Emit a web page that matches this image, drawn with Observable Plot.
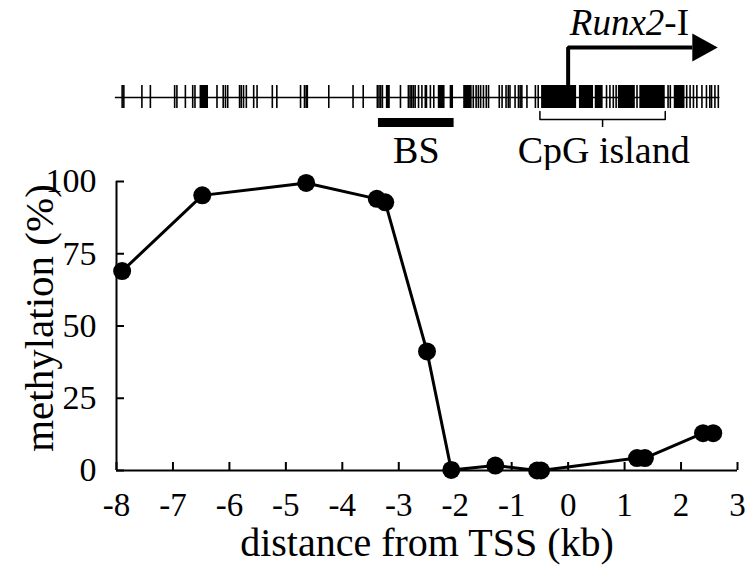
<!DOCTYPE html>
<html>
<head>
<meta charset="utf-8">
<script src="https://cdn.jsdelivr.net/npm/d3@7"></script>
<script src="https://cdn.jsdelivr.net/npm/@observablehq/plot@0.6"></script>
<style>
  html, body { margin: 0; padding: 0; background: #fff; }
  #chart svg { display: block; font-family: "Liberation Serif", "Times New Roman", serif; color: #000; }
</style>
</head>
<body>
<div id="chart"></div>
<script>
// ---- data (kb relative to TSS, % methylation) ----
const positionKb = [-7.9, -6.48, -4.64, -3.39, -3.24, -2.50, -2.07, -1.29, -0.55, -0.48, 1.22, 1.36, 2.39, 2.57];
const methylationPct = [69, 95.2, 99.5, 94, 92.8, 41.2, 0.2, 1.7, 0, 0, 4.3, 4.3, 12.9, 12.9];
const xTickValues = [-8, -7, -6, -5, -4, -3, -2, -1, 0, 1, 2, 3];
const yTickValues = [0, 25, 50, 75, 100];
const xTitle = "distance from TSS (kb)";
const yTitle = "methylation (%)";

// ---- gene diagram (kb) ----
const cpgSites = [-7.90, -7.87, -7.55, -7.40, -6.97, -6.93, -6.78, -6.65, -6.61, -6.22, -6.11, -6.07, -6.03,
  -5.82, -5.79, -5.75, -5.70, -5.57, -5.51, -5.24, -5.16, -4.74, -4.67, -4.64, -4.62, -4.24, -3.81, -3.63,
  -3.38, -3.35, -3.32, -3.29, -2.97, -2.83, -2.80, -2.77, -2.74, -2.71, -2.65, -2.59, -2.53, -2.51, -2.44, -2.38,
  -1.68, -1.63, -1.59, -1.55, -1.50, -1.45, -1.41, -1.22, -1.17, -1.10, -1.06, -1.03, -0.94, -0.88, -0.85,
  -0.82, -0.73, -0.58, -0.53, 0.68, 0.74, 0.80, 0.85, 1.22, 1.77, 1.81, 2.10, 2.16, 2.22, 2.28, 2.37, 2.45,
  2.51, 2.54, 2.60, 2.66];
const cpgClusters = [[-6.52, -6.37], [-3.22, -3.15], [-2.30, -2.18], [-2.09, -2.03], [-1.85, -1.70],
  [-0.47, 0.15], [0.20, 0.45], [0.48, 0.62], [0.89, 1.19], [1.27, 1.72], [1.88, 2.07]];
const genomicSpan = [-8.02, 2.69];
const bsRegion = [-3.36, -2.02];
const cpgIsland = [-0.50, 1.72];
const tssArrow = {start: 0, headBase: 2.2, tip: 2.65};
const geneName = "Runx2-I";
const bsLabel = "BS";
const islandLabel = "CpG island";

const W = 756, ML = 116, MR = 19;
const font = "Liberation Serif";

// ---------- top: promoter schematic ----------
const lineY = 97, tickTop = 85, tickBottom = 108;
const arrowY = 47;
const headPts = [[tssArrow.headBase, arrowY - 14], [tssArrow.tip, arrowY], [tssArrow.headBase, arrowY + 14]];
const bracketPts = [[cpgIsland[0], 111], [cpgIsland[0], 119], [cpgIsland[1], 119], [cpgIsland[1], 111]];
const islandMid = (cpgIsland[0] + cpgIsland[1]) / 2;

const diagram = Plot.plot({
  width: W, height: 170,
  marginLeft: ML, marginRight: MR, marginTop: 0, marginBottom: 0,
  style: {fontFamily: font, background: "white"},
  x: {domain: [-8, 3], axis: null},
  y: {domain: [170, 0], range: [170, 0], axis: null},
  marks: [
    Plot.ruleY([lineY], {x1: genomicSpan[0], x2: genomicSpan[1], stroke: "black", strokeWidth: 1.3}),
    Plot.ruleX(cpgSites, {x: d => d, y1: tickTop, y2: tickBottom, stroke: "black", strokeWidth: 1.6}),
    Plot.rect(cpgClusters, {x1: d => d[0], x2: d => d[1], y1: tickTop, y2: tickBottom, fill: "black"}),
    Plot.rect([bsRegion], {x1: d => d[0], x2: d => d[1], y1: 118, y2: 127, fill: "black"}),
    Plot.text([bsLabel], {text: d => d, x: (bsRegion[0] + bsRegion[1]) / 2, y: 150, fontSize: 38, fontFamily: font, fill: "black"}),
    Plot.line(bracketPts, {x: d => d[0], y: d => d[1], stroke: "black", strokeWidth: 1.5}),
    Plot.ruleX([islandMid], {y1: 119, y2: 127, stroke: "black", strokeWidth: 1.5}),
    Plot.text([islandLabel], {text: d => d, x: islandMid + 0.02, y: 150, fontSize: 38, fontFamily: font, fill: "black"}),
    Plot.line([[tssArrow.start, lineY - 10], [tssArrow.start, arrowY], [tssArrow.headBase, arrowY]],
      {x: d => d[0], y: d => d[1], stroke: "black", strokeWidth: 4, strokeLinejoin: "miter", strokeLinecap: "butt"}),
    Plot.line(headPts, {x: d => d[0], y: d => d[1], fill: "black", stroke: "none"}),
    Plot.text([geneName], {text: d => d, x: tssArrow.start + 0.03, y: 23, textAnchor: "start", fontSize: 37, fontFamily: font, fill: "black", className: "gene-label"})
  ]
});

// ---------- bottom: methylation profile ----------
const data = positionKb.map((x, i) => ({x, y: methylationPct[i]}));
const fmt = d => `${d}`;

const profile = Plot.plot({
  width: W, height: 399,
  marginLeft: ML, marginRight: MR, marginTop: 11, marginBottom: 99,
  style: {fontFamily: font, background: "white", overflow: "visible"},
  x: {domain: [-8, 3], axis: null},
  y: {domain: [0, 100], axis: null},
  marks: [
    Plot.ruleY([0], {stroke: "black", strokeWidth: 2}),
    Plot.ruleX([-8], {stroke: "black", strokeWidth: 2}),
    // inward tick marks only (no text)
    Plot.axisX({ticks: xTickValues, tickSize: 8, dy: -8, strokeWidth: 2, fill: "none", label: null}),
    Plot.axisY({ticks: yTickValues, tickSize: 8, dx: 8, strokeWidth: 2, fill: "none", label: null}),
    // tick labels
    Plot.text(xTickValues, {x: d => d, text: fmt, frameAnchor: "bottom", lineAnchor: "top", dy: 22, fontSize: 33, fontFamily: font, fill: "black"}),
    Plot.text(yTickValues, {y: d => d, text: fmt, frameAnchor: "left", textAnchor: "end", lineAnchor: "middle", dx: -20, fontSize: 34, fontFamily: font, fill: "black"}),
    Plot.line(data, {x: "x", y: "y", stroke: "black", strokeWidth: 3}),
    Plot.dot(data, {x: "x", y: "y", r: 9, fill: "black", stroke: "none"}),
    Plot.text([xTitle], {text: d => d, frameAnchor: "bottom", lineAnchor: "middle", textAnchor: "middle", dy: 73, fontSize: 40, fontFamily: font, fill: "black"}),
    Plot.text([yTitle], {text: d => d, frameAnchor: "left", textAnchor: "middle", lineAnchor: "middle", rotate: -90, dx: -77, dy: -8, fontSize: 41, fontFamily: font, fill: "black"})
  ]
});

const chart = document.getElementById("chart");
chart.appendChild(diagram);
chart.appendChild(profile);

// italicise gene symbol, keep isoform suffix upright
d3.select(diagram).selectAll(".gene-label text").each(function() {
  const t = d3.select(this);
  t.text(null);
  t.append("tspan").attr("font-style", "italic").text("Runx2");
  t.append("tspan").text("-I");
});
</script>
</body>
</html>
